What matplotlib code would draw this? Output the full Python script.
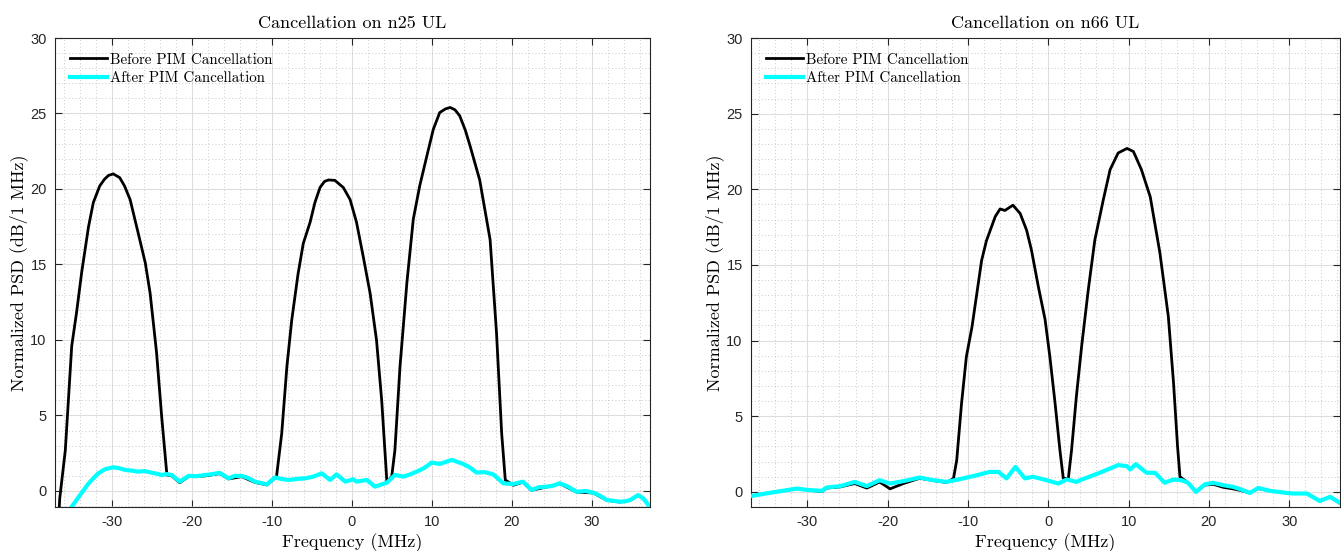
import matplotlib
matplotlib.use("Agg")
import matplotlib.pyplot as plt
from matplotlib.ticker import MultipleLocator

plt.rcParams["axes.unicode_minus"] = False

# ---------------- data ----------------
# Left panel: n25 UL
n25_before_f = [-37.1, -36.6, -36.5, -35.8, -35.0, -34.4, -33.75, -32.9, -32.3, -31.5, -30.9, -30.4,
                -29.8, -29.0, -28.4, -27.7, -26.7, -25.8, -25.2, -24.4, -23.75, -23.1,
                -22.5, -21.5, -20.4, -18.3, -16.5, -15.4, -13.75, -12.1, -10.6, -9.6, -9.4,
                -8.75, -8.1, -7.5, -6.7, -6.05, -5.2, -4.6, -3.96, -3.4, -2.9, -2.1, -1.05, -0.2,
                0.6, 1.45, 2.3, 3.1, 3.75, 4.4, 5.0, 5.4, 6.04, 6.9, 7.7, 8.5, 9.4, 10.2,
                11.0, 11.7, 12.3, 12.9, 13.5, 14.2, 14.8, 16.0, 17.3, 18.1, 18.75, 19.2,
                20.2, 21.4, 22.5, 24.4, 26.0, 28.1, 30.2, 31.9, 33.5, 34.8, 35.8, 36.45, 37.1]
n25_before_v = [-3.0, -1.5, -0.5, 2.7, 9.6, 11.8, 14.5, 17.5, 19.1, 20.2, 20.65, 20.9,
                21.0, 20.75, 20.2, 19.3, 17.1, 15.1, 13.1, 9.2, 4.9, 1.06,
                1.0, 0.55, 0.95, 1.0, 1.15, 0.8, 0.95, 0.57, 0.4, 0.85, 0.95,
                3.8, 8.25, 11.3, 14.4, 16.4, 17.8, 19.1, 20.1, 20.5, 20.6, 20.57, 20.1, 19.3,
                17.8, 15.5, 13.1, 10.0, 6.0, 0.6, 0.95, 2.7, 8.25, 13.8, 18.0, 20.2, 22.2, 23.95,
                25.06, 25.3, 25.4, 25.25, 24.85, 23.9, 22.85, 20.6, 16.65, 10.5, 3.8, 0.73,
                0.38, 0.58, 0.05, 0.27, 0.49, -0.07, -0.13, -0.62, -0.73, -0.62, -0.29, -0.51, -0.95]

n25_after_f = [-37.1, -35.0, -34.0, -32.9, -31.7, -30.8, -29.8, -29.0, -28.3, -27.5, -26.7, -25.9,
               -25.0, -24.4, -23.75, -23.1, -22.5, -21.5, -20.4, -19.4, -18.3, -17.4, -16.5,
               -15.4, -14.6, -13.75, -12.9, -12.1, -10.6, -9.6, -8.8, -7.9, -6.8, -5.8, -4.8,
               -3.75, -2.7, -1.9, -0.8, 0.2, 0.6, 1.9, 2.9, 4.4, 5.4, 6.45, 7.3, 8.1, 9.0,
               10.0, 11.0, 12.5, 13.95, 14.8, 15.6, 16.6, 17.7, 18.95, 20.2, 21.4, 22.5,
               23.4, 24.4, 25.2, 26.0, 27.0, 28.1, 29.2, 30.2, 31.0, 31.9, 32.7, 33.5,
               34.2, 34.8, 35.8, 36.45, 37.1]
n25_after_v = [-2.5, -1.04, -0.3, 0.5, 1.17, 1.45, 1.57, 1.5, 1.39, 1.35, 1.28, 1.32,
               1.21, 1.15, 1.06, 1.12, 1.06, 0.62, 1.0, 0.98, 1.06, 1.12, 1.2,
               0.84, 1.0, 1.0, 0.85, 0.62, 0.44, 0.9, 0.8, 0.73, 0.8, 0.84, 0.95,
               1.17, 0.73, 1.1, 0.62, 0.78, 0.62, 0.73, 0.29, 0.55, 1.06, 0.95, 1.1, 1.28, 1.5,
               1.88, 1.79, 2.06, 1.79, 1.55, 1.22, 1.25, 1.1, 0.51, 0.46, 0.62, 0.07,
               0.25, 0.29, 0.35, 0.51, 0.3, -0.05, 0.0, -0.11, -0.3, -0.6, -0.65, -0.71,
               -0.68, -0.6, -0.27, -0.49, -0.93]

# Right panel: n66 UL
n66_before_f = [-37.1, -35.1, -32.6, -31.3, -30.1, -28.2, -27.6, -25.9, -24.1, -22.6, -21.0,
                -19.7, -18.05, -16.0, -14.3, -12.65, -11.8, -11.4, -10.8, -10.2, -9.5, -8.9,
                -8.3, -7.7, -6.6, -6.0, -5.4, -4.4, -3.5, -2.7, -2.1, -1.25, -0.4, 0.2, 0.85,
                1.45, 1.87, 2.5, 2.9, 3.5, 4.15, 4.98, 5.8, 6.85, 7.7, 8.7, 9.8, 10.6, 11.6,
                12.7, 13.9, 14.95, 15.6, 16.1, 16.4, 17.4, 18.4, 19.5, 20.55, 21.8, 23.0,
                23.9, 25.1, 26.15, 27.6, 29.7, 30.5, 32.2, 33.8, 35.1, 36.1, 37.1]
n66_before_v = [-0.28, -0.1, 0.11, 0.22, 0.13, 0.02, 0.25, 0.33, 0.55, 0.25, 0.65,
                0.2, 0.55, 0.9, 0.75, 0.62, 0.89, 2.1, 5.85, 8.93, 10.9, 13.1,
                15.3, 16.6, 18.2, 18.7, 18.6, 18.95, 18.4, 17.3, 16.0, 13.6, 11.4, 8.93, 5.85,
                2.76, 0.89, 0.89, 2.76, 6.3, 9.6, 13.35, 16.65, 19.3, 21.3, 22.4, 22.7, 22.5, 21.3,
                19.5, 15.8, 11.6, 7.2, 3.0, 1.0, 0.6, 0.0, 0.45, 0.5, 0.3, 0.2,
                0.1, -0.07, 0.22, 0.07, -0.07, -0.11, -0.11, -0.6, -0.33, -0.66, -1.0]

n66_after_f = [-37.1, -35.1, -32.6, -31.3, -30.1, -28.2, -27.6, -25.9, -24.1, -22.6, -21.0,
               -19.7, -18.05, -16.0, -14.3, -12.65, -10.6, -8.9, -7.3, -6.2, -5.2, -4.1,
               -2.9, -1.9, -0.2, 1.25, 2.3, 3.5, 3.95, 5.6, 6.4, 8.7, 9.8, 10.2, 10.9,
               12.25, 13.3, 14.5, 15.6, 16.6, 17.4, 18.4, 19.5, 20.55, 21.8, 23.0,
               23.9, 25.1, 26.15, 27.6, 29.7, 30.5, 32.2, 33.8, 35.1, 36.1, 37.1]
n66_after_v = [-0.28, -0.1, 0.11, 0.22, 0.13, 0.07, 0.29, 0.38, 0.66, 0.38, 0.77,
               0.55, 0.71, 0.95, 0.77, 0.66, 0.89, 1.1, 1.32, 1.32, 0.89, 1.65,
               0.89, 1.0, 0.77, 0.55, 0.82, 0.66, 0.77, 1.1, 1.26, 1.77, 1.7, 1.48, 1.83,
               1.26, 1.26, 0.6, 0.82, 0.77, 0.6, 0.0, 0.5, 0.6, 0.44, 0.33,
               0.18, -0.07, 0.26, 0.07, -0.07, -0.11, -0.11, -0.6, -0.33, -0.66, -1.0]

titles = ["Cancellation on n25 UL", "Cancellation on n66 UL"]
legend_labels = ["Before PIM Cancellation", "After PIM Cancellation"]
xticks = [-30, -20, -10, 0, 10, 20, 30]
yticks = [0, 5, 10, 15, 20, 25, 30]

# ---------------- figure ----------------
W, H = 1341, 551
fig = plt.figure(figsize=(W / 100, H / 100), dpi=100)

def px_axes(x0, x1, ytop, ybot):
    return fig.add_axes([x0 / W, 1 - ybot / H, (x1 - x0) / W, (ybot - ytop) / H])

ax1 = px_axes(55, 650, 38, 507)
ax2 = px_axes(751, 1340, 38, 507)

serif = "cmr10"
dark = "#262626"

panels = [
    (ax1, n25_before_f, n25_before_v, n25_after_f, n25_after_v, (-37.09, 37.29), (-1.06, 30)),
    (ax2, n66_before_f, n66_before_v, n66_after_f, n66_after_v, (-37.02, 36.33), (-1.0, 30)),
]

for i, (ax, bf, bv, af, av, xl, yl) in enumerate(panels):
    ax.plot(bf, bv, color="black", lw=2.0, label=legend_labels[0], zorder=3,
            solid_joinstyle="round")
    ax.plot(af, av, color="#00ffff", lw=3.0, label=legend_labels[1], zorder=4,
            solid_joinstyle="round")
    ax.set_xlim(*xl)
    ax.set_ylim(*yl)
    ax.set_xticks(xticks)
    ax.set_yticks(yticks)
    ax.xaxis.set_minor_locator(MultipleLocator(2))
    ax.yaxis.set_minor_locator(MultipleLocator(1))
    ax.grid(True, which="major", color="#dedede", lw=0.8, ls="-", zorder=0)
    ax.grid(True, which="minor", color="#b8b8b8", lw=0.6, ls=(0, (1, 3)), zorder=0)
    ax.set_axisbelow(True)
    ax.tick_params(which="major", direction="in", top=True, right=True, length=5,
                   width=0.8, color=dark, labelcolor=dark, labelsize=10.5,
                   pad=6)
    ax.tick_params(which="minor", length=0, top=True, right=True)
    for lab in ax.get_xticklabels() + ax.get_yticklabels():
        lab.set_family("Liberation Sans")
    for s in ax.spines.values():
        s.set_color(dark)
        s.set_linewidth(0.8)
    ax.set_title(titles[i], family=serif, fontsize=13, color="black", pad=7)
    ax.set_xlabel("Frequency (MHz)", family=serif, fontsize=13, labelpad=3)
    ax.set_ylabel("Normalized PSD (dB/1 MHz)", family=serif, fontsize=13, labelpad=2)
    ax.legend(loc="upper left", bbox_to_anchor=(0.025, 0.968), frameon=False,
              borderaxespad=0, borderpad=0, handlelength=2.5, handletextpad=0.2,
              labelspacing=0.3, prop={"family": serif, "size": 10.8})

fig.savefig("out.png", dpi=100)
